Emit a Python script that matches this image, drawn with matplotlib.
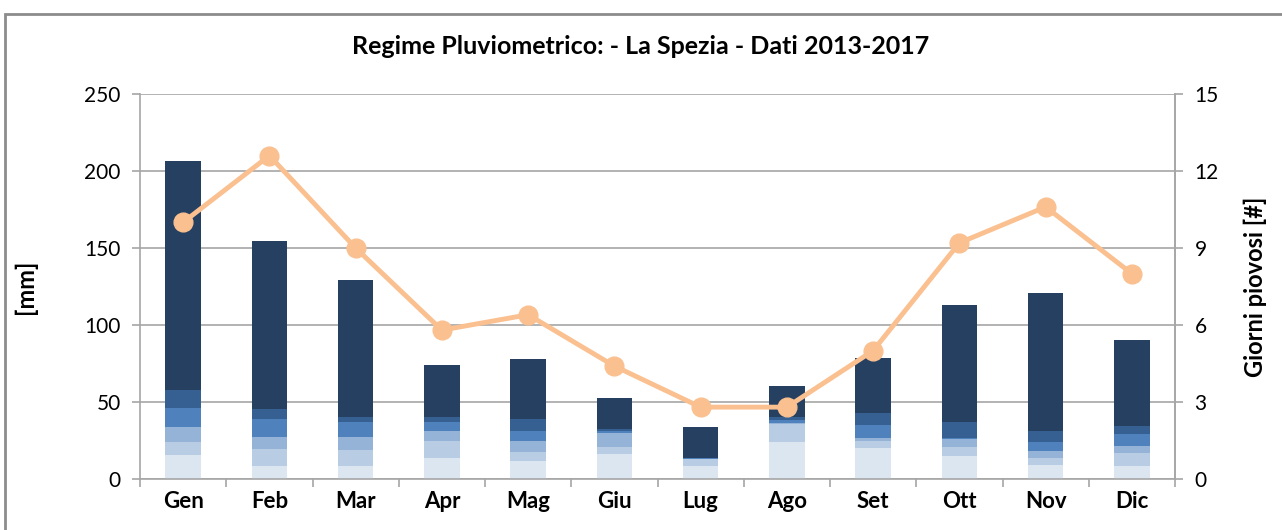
import matplotlib.pyplot as plt
import numpy as np
from matplotlib.patches import Rectangle

plt.rcParams['font.family'] = ['Lato', 'DejaVu Sans']

mesi = ["Gen", "Feb", "Mar", "Apr", "Mag", "Giu", "Lug", "Ago", "Set", "Ott", "Nov", "Dic"]

# stacked rainfall components (mm), from bottom (lightest) to top (darkest)
strato1 = [15.6, 8.4, 8.4, 13.8, 11.9, 16.2, 8.4, 24.2, 20.3, 14.9, 9.1, 8.4]
strato2 = [8.6, 11.1, 10.2, 11.1, 5.8, 4.8, 4.6, 11.5, 4.6, 6.1, 4.3, 8.7]
strato3 = [9.4, 7.6, 8.5, 6.3, 7.2, 8.7, 0.2, 0.5, 1.5, 4.8, 4.8, 4.5]
strato4 = [12.3, 11.9, 9.7, 6.0, 6.3, 1.5, 0.2, 2.3, 8.7, 1.0, 6.0, 7.4]
strato5 = [11.9, 6.3, 3.7, 3.3, 7.8, 1.1, 0.2, 1.8, 7.6, 10.4, 7.0, 5.4]
strato6 = [148.7, 109.2, 88.7, 33.5, 38.9, 20.1, 20.4, 20.1, 35.9, 75.8, 89.8, 55.9]

giorni_piovosi = [10.0, 12.6, 9.0, 5.8, 6.4, 4.4, 2.8, 2.8, 5.0, 9.2, 10.6, 8.0]

colori = ["#dce6f1", "#b8cce4", "#95b3d7", "#4f81bd", "#366092", "#254061"]
strati = [strato1, strato2, strato3, strato4, strato5, strato6]

fig = plt.figure(figsize=(12.82, 5.3), dpi=100)
ax = fig.add_axes([140 / 1282, 1 - 479 / 530, 1035 / 1282, 385 / 530])

x = np.arange(len(mesi))
base = np.zeros(len(mesi))
for valori, col in zip(strati, colori):
    ax.bar(x, valori, bottom=base, width=0.41, color=col, zorder=2)
    base += np.array(valori)

ax.set_xlim(-0.5, 11.5)
ax.set_ylim(0, 250)
ax.set_yticks(range(0, 251, 50))
ax.grid(axis='y', color='#a6a6a6', linewidth=1.2, zorder=0)
ax.set_xticks(x)
ax.set_xticklabels(mesi, fontsize=16, fontweight='bold')
ax.set_xticks(np.arange(-0.5, 12, 1), minor=True)
ax.tick_params(axis='x', which='major', length=0, pad=9)
ax.tick_params(axis='x', which='minor', length=6, color='#a6a6a6', width=1.2)
ax.tick_params(axis='y', labelsize=15, length=6, color='#a6a6a6', width=1.2, pad=8)
ax.spines['top'].set_visible(False)
for s in ['left', 'bottom', 'right']:
    ax.spines[s].set_color('#a6a6a6')
    ax.spines[s].set_linewidth(1.2)
ax.set_ylabel("[mm]", fontsize=17, fontweight='bold', labelpad=34)

ax2 = ax.twinx()
ax2.plot(x, giorni_piovosi, color='#fac090', linewidth=3.5, marker='o',
         markersize=13.5, zorder=3)
ax2.set_ylim(0, 15)
ax2.set_yticks(range(0, 16, 3))
ax2.tick_params(axis='y', labelsize=15, length=6, color='#a6a6a6', width=1.2, pad=8)
for s in ['top', 'left', 'bottom']:
    ax2.spines[s].set_visible(False)
ax2.spines['right'].set_color('#a6a6a6')
ax2.spines['right'].set_linewidth(1.2)
ax2.set_ylabel("Giorni piovosi [#]", fontsize=17, fontweight='bold', labelpad=18)

fig.text(0.5, 1 - 47 / 530, "Regime Pluviometrico: - La Spezia - Dati 2013-2017",
         ha='center', va='center', fontsize=18, fontweight='bold')

fig.patches.append(Rectangle((5 / 1282, -0.1), 1.2, 1 - 14 / 530 + 0.1,
                             transform=fig.transFigure, fill=False,
                             edgecolor='#8c8c8c', linewidth=2))

fig.savefig("out.png", dpi=100)
